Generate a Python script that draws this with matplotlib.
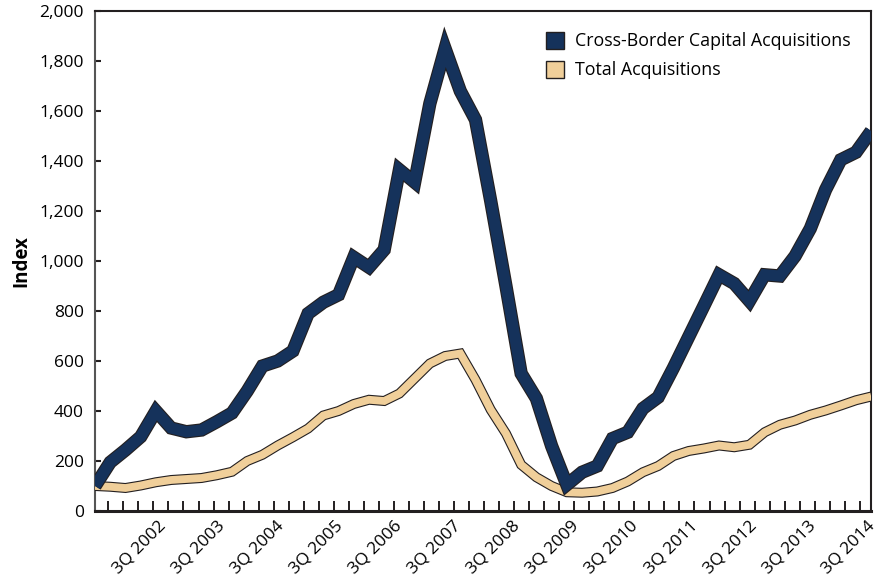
import numpy as np
import matplotlib
matplotlib.use("Agg")
import matplotlib.pyplot as plt
import matplotlib.patheffects as pe
from matplotlib.patches import Patch

plt.rcParams['font.family'] = ['Open Sans', 'DejaVu Sans']

# quarterly index values, 3Q 2001 .. 4Q 2014
cross_border = [100, 195, 244, 297, 400, 332, 317, 324, 357, 392,
                480, 580, 600, 640, 790, 835, 865, 1015, 975, 1045,
                1365, 1315, 1630, 1850, 1680, 1565, 1240, 900, 550, 450,
                260, 105, 155, 180, 290, 315, 410, 455, 572, 696,
                820, 945, 910, 840, 945, 940, 1020, 1130, 1285, 1405,
                1435, 1520]
total = [100, 97, 92, 102, 115, 124, 128, 132, 143, 157,
         200, 225, 262, 295, 330, 382, 400, 428, 445, 440,
         470, 530, 590, 620, 630, 525, 405, 310, 185, 135,
         100, 75, 73, 78, 92, 118, 155, 180, 220, 240,
         250, 262, 255, 265, 315, 345, 362, 385, 402, 422,
         443, 458]
year_labels = ["3Q 2002", "3Q 2003", "3Q 2004", "3Q 2005", "3Q 2006", "3Q 2007",
               "3Q 2008", "3Q 2009", "3Q 2010", "3Q 2011", "3Q 2012", "3Q 2013",
               "3Q 2014"]
series_names = ["Cross-Border Capital Acquisitions", "Total Acquisitions"]

blue = "#15325b"
tan = "#f0cf9a"
edge = "#231f20"

fig = plt.figure(figsize=(8.8, 5.82), dpi=100)
ax = fig.add_axes([0.108, 0.122, 0.882, 0.859])

x = np.arange(len(cross_border))

ax.plot(x, total, color=tan, lw=5.6, solid_joinstyle="miter", solid_capstyle="butt",
        path_effects=[pe.Stroke(linewidth=7.2, foreground=edge), pe.Normal()], zorder=3)
ax.plot(x, cross_border, color=blue, lw=8.0, solid_joinstyle="miter", solid_capstyle="butt",
        path_effects=[pe.Stroke(linewidth=9.6, foreground=edge), pe.Normal()], zorder=4)

ax.set_xlim(0, len(cross_border) - 1)
ax.set_ylim(0, 2000)

ax.set_yticks(np.arange(0, 2001, 200))
ax.set_yticklabels([f"{v:,}" for v in range(0, 2001, 200)])
ax.tick_params(axis="y", direction="in", length=4.5, width=1.5, color=edge,
               labelsize=12.5, pad=8)

# labels every year, quarter marks as minor ticks
ax.set_xticks(np.linspace(4.1, 50.7, len(year_labels)))
ax.set_xticklabels(year_labels, rotation=45, ha="right", va="top",
                   rotation_mode="anchor", fontsize=12.5)
ax.tick_params(axis="x", which="major", length=0, pad=5)
ax.set_xticks(np.linspace(0.875, 50.25, 51), minor=True)
ax.tick_params(axis="x", which="minor", direction="in", length=7.5, width=1.4, color=edge)

for s in ax.spines.values():
    s.set_color(edge)
    s.set_linewidth(1.5)
ax.spines["bottom"].set_linewidth(2.2)
ax.spines["left"].set_color("#555555")

ax.set_ylabel("Index", fontsize=13.5, fontweight="bold", labelpad=6)

handles = [Patch(facecolor=blue, edgecolor=edge, lw=1.0),
           Patch(facecolor=tan, edgecolor=edge, lw=1.0)]
ax.legend(handles, series_names, loc="upper left", bbox_to_anchor=(0.56, 0.99),
          frameon=False, fontsize=12.8, handlelength=1.05, handleheight=1.05,
          handletextpad=0.6, labelspacing=0.6)

fig.savefig("out.png", dpi=100)
